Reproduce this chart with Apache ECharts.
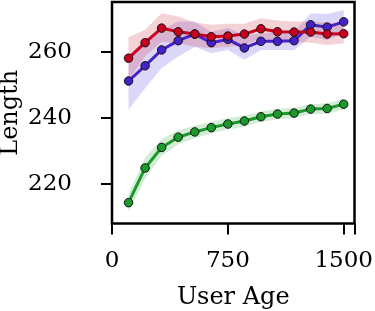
<!DOCTYPE html>
<html><head><meta charset="utf-8">
<script src="https://cdn.jsdelivr.net/npm/echarts@6/dist/echarts.min.js"></script>
<style>html,body{margin:0;padding:0;background:#fff}#c{width:375px;height:311px}</style>
</head><body><div id="c"></div>
<script>
var userAge = [107.1, 214.3, 321.4, 428.6, 535.7, 642.9, 750, 857.1, 964.3, 1071.4, 1178.6, 1285.7, 1392.9, 1500];
var xTicks = [0, 750, 1500];
var yTicks = [220, 240, 260];

var redMean  = [258.0, 262.7, 267.1, 266.0, 265.3, 264.5, 264.7, 265.3, 266.9, 266.0, 265.9, 265.9, 265.3, 265.4];
var redUpper = [264.3, 266.6, 271.6, 270.6, 268.8, 268.1, 268.4, 268.4, 270.1, 269.4, 269.1, 269.1, 268.8, 268.6];
var redLower = [251.5, 258.5, 263.0, 262.5, 261.5, 261.0, 261.5, 262.0, 264.0, 263.0, 263.0, 262.7, 262.0, 262.5];

var blueMean  = [251.1, 255.7, 260.5, 263.3, 265.3, 262.7, 263.7, 261.1, 263.1, 263.1, 263.3, 268.1, 267.4, 269.0];
var blueUpper = [259.0, 262.5, 266.6, 269.1, 269.1, 266.0, 267.1, 265.0, 265.5, 266.0, 266.0, 271.6, 271.4, 272.6];
var blueLower = [242.4, 248.9, 255.0, 258.5, 261.5, 259.5, 260.5, 257.5, 260.5, 260.5, 260.5, 264.5, 263.5, 265.5];

var greenMean  = [214.3, 224.8, 231.0, 234.1, 235.7, 237.0, 238.1, 239.0, 240.3, 241.1, 241.4, 242.6, 242.8, 244.1];
var greenUpper = [217.0, 228.0, 233.5, 236.2, 237.6, 238.8, 239.8, 240.7, 241.9, 242.7, 243.0, 244.1, 244.4, 245.7];
var greenLower = [211.5, 221.5, 228.5, 232.0, 233.8, 235.2, 236.4, 237.3, 238.7, 239.5, 239.8, 241.1, 241.2, 242.5];

var FONT = 'DejaVu Serif';
function pairs(xs, ys){ return xs.map(function(x,i){ return [x, ys[i]]; }); }

function band(upper, lower, color){
  return {
    type: 'custom', silent: true, z: 1,
    data: [[userAge[0], upper[0]]],
    renderItem: function(params, api){
      var pts = [];
      for (var i = 0; i < userAge.length; i++) pts.push(api.coord([userAge[i], upper[i]]));
      for (var j = userAge.length - 1; j >= 0; j--) pts.push(api.coord([userAge[j], lower[j]]));
      return { type: 'polygon', shape: { points: pts }, style: { fill: color, stroke: null } };
    }
  };
}
function line(mean, color, z){
  return {
    type: 'line', z: z, data: pairs(userAge, mean),
    symbol: 'circle', symbolSize: 8.5,
    lineStyle: { color: color, width: 3 },
    itemStyle: { color: color, borderColor: '#111', borderWidth: 1 },
    animation: false
  };
}

var chart = echarts.init(document.getElementById('c'), null, { renderer: 'canvas' });
chart.setOption({
  animation: false,
  grid: { left: 112, right: 20.5, top: 2, bottom: 87.5, show: true, borderColor: '#000', borderWidth: 2.5, backgroundColor: 'transparent', containLabel: false, outerBoundsMode: 'none' },
  xAxis: {
    type: 'value', min: 0, max: 1570, interval: 750,
    name: 'User Age', nameLocation: 'middle', nameGap: 62,
    nameTextStyle: { fontFamily: FONT, fontSize: 24, color: '#000' },
    axisLine: { show: false },
    axisTick: { show: true, length: 11, lineStyle: { color: '#000', width: 2 } },
    axisLabel: { fontFamily: FONT, fontSize: 23, color: '#000', margin: 26,
      customValues: xTicks, formatter: function(v){ return String(v); } },
    splitLine: { show: false }
  },
  yAxis: [{
    type: 'value', min: 208, max: 275, position: 'left',
    axisLine: { show: false },
    axisTick: { show: true, length: 11, customValues: yTicks, lineStyle: { color: '#000', width: 2 } },
    axisLabel: { show: false },
    splitLine: { show: false }
  }, {
    type: 'value', min: 208, max: 275, position: 'left', offset: 14,
    name: 'Length', nameLocation: 'middle', nameGap: 75, nameRotate: 90, nameMoveOverlap: false,
    nameTextStyle: { fontFamily: FONT, fontSize: 24, color: '#000' },
    axisLine: { show: false },
    axisTick: { show: false },
    axisLabel: { fontFamily: FONT, fontSize: 23, color: '#000', margin: 26, customValues: yTicks },
    splitLine: { show: false }
  }],
  series: [
    band(greenUpper, greenLower, 'rgba(30,160,45,0.2)'),
    band(blueUpper, blueLower, 'rgba(75,55,220,0.2)'),
    band(redUpper, redLower, 'rgba(205,30,50,0.2)'),
    line(greenMean, '#1a9a2a', 3),
    line(blueMean, '#4522c8', 4),
    line(redMean, '#c8001e', 5)
  ]
});
</script></body></html>
